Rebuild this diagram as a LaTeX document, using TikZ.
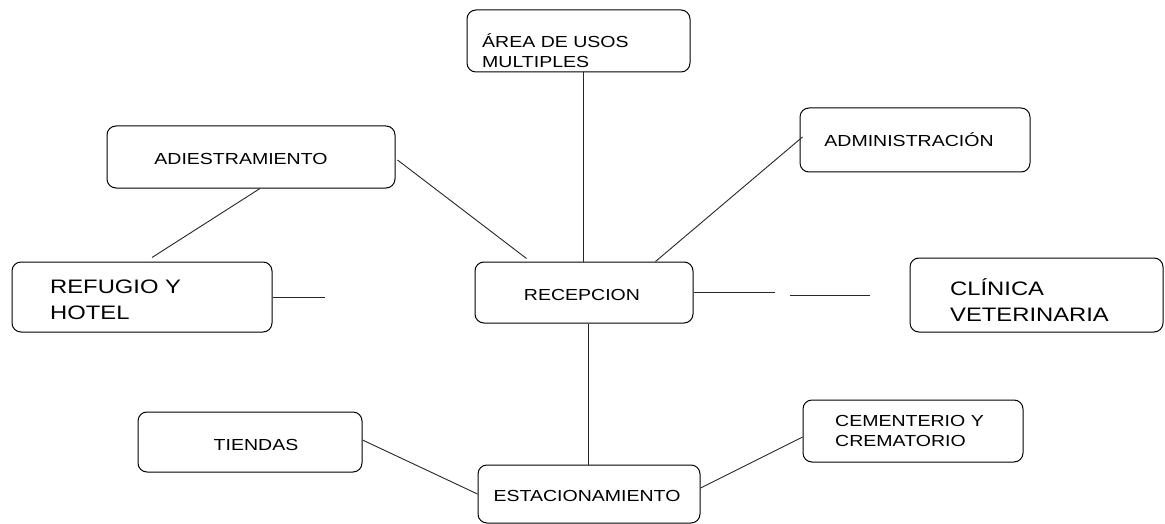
\documentclass[tikz,border=0pt]{standalone}
\usepackage{fontspec}
\setmainfont{Liberation Sans}[FakeStretch=1.22]
\usetikzlibrary{calc}
\tikzset{
  box/.style={draw=black, line width=1pt, rounded corners=9pt, inner sep=0pt},
  smalltxt/.style={inner sep=0pt, align=left, font=\fontsize{16}{20}\selectfont},
  bigtxt/.style={inner sep=0pt, align=left, font=\fontsize{19.5}{26}\selectfont},
  link/.style={draw=black!85, line width=0.9pt}
}
\begin{document}
\begin{tikzpicture}[x=1pt,y=-1pt]
\useasboundingbox (0,0) rectangle (1165,524);
% boxes
\node[box, minimum width=223pt, minimum height=62pt] (area) at (578.5,41) {};
\node[box, minimum width=288pt, minimum height=62pt] (adi) at (251,157) {};
\node[box, minimum width=230pt, minimum height=64pt] (admin) at (915,140) {};
\node[box, minimum width=260pt, minimum height=70pt] (refugio) at (142,297) {};
\node[box, minimum width=218pt, minimum height=61pt] (recep) at (584,292.5) {};
\node[box, minimum width=253pt, minimum height=74pt] (clinica) at (1036.5,295) {};
\node[box, minimum width=224pt, minimum height=60pt] (tiendas) at (250,442) {};
\node[box, minimum width=222pt, minimum height=58pt] (estac) at (589,494) {};
\node[box, minimum width=220pt, minimum height=62pt] (cem) at (913,431) {};
% texts
\node[smalltxt, anchor=west] (areaT) at (482,51) {ÁREA DE USOS\\MULTIPLES};
\node[smalltxt] (adiT) at (241,159) {ADIESTRAMIENTO};
\node[smalltxt] (adminT) at (909,140) {ADMINISTRACIÓN};
\node[bigtxt, anchor=west] (refugioT) at (50,300) {REFUGIO Y\\HOTEL};
\node[smalltxt] (recepT) at (582,295) {RECEPCION};
\node[bigtxt, anchor=west] (clinicaT) at (950,300) {CLÍNICA\\VETERINARIA};
\node[smalltxt] (tiendasT) at (256,445) {TIENDAS};
\node[smalltxt] (estacT) at (587,496) {ESTACIONAMIENTO};
\node[smalltxt, anchor=west] (cemT) at (835,431) {CEMENTERIO Y\\CREMATORIO};
% free ends
\coordinate (refEnd) at (325,297);
\coordinate (g1) at (775,292.5);
\coordinate (g2) at (790,295);
\coordinate (g3) at (870,295);
% connectors
\draw[link] (recep.north -| 583,0) -- (area.south -| 583,0);
\draw[link] ($(adi.south)+(9,0)$) -- ($(refugio.north)+(10,-4)$);
\draw[link] ($(adi.east)+(2,3)$) -- ($(recep.north west)+(52,-3)$);
\draw[link] ($(admin.west)+(3,-3)$) -- ($(recep.north east)+(-38,0)$);
\draw[link] (refugio.east) -- (refEnd);
\draw[link] (recep.east) -- (g1);
\draw[link] (g2) -- (g3);
\draw[link] (recep.south -| 588,0) -- (estac.north -| 588,0);
\draw[link] ($(tiendas.east)+(0,-2)$) -- (estac.west);
\draw[link] ($(estac.east)+(0,-6)$) -- ($(cem.west)+(0,6)$);
\end{tikzpicture}
\end{document}
